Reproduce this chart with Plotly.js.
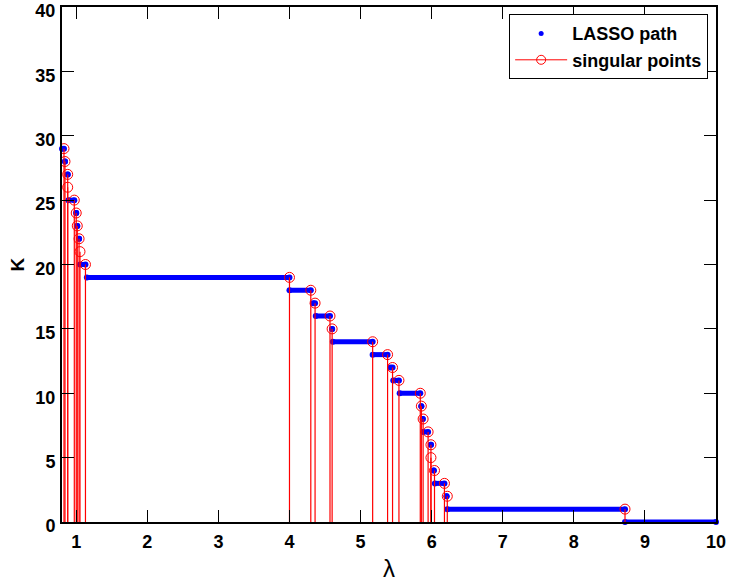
<!DOCTYPE html>
<html>
<head>
<meta charset="utf-8">
<script src="https://cdn.plot.ly/plotly-3.0.1.min.js"></script>
<style>html,body{margin:0;padding:0;background:#fff;}#chart{width:729px;height:587px;}</style>
</head>
<body>
<div id="chart"></div>
<script>
// Singular points (lambda, K)
const singularLambda = [0.828, 0.842, 0.88, 0.88, 0.973, 1.0, 1.015, 1.04, 1.053, 1.13,
  4.0, 4.30, 4.36, 4.57, 4.60, 5.17, 5.38, 5.45, 5.54, 5.84, 5.855, 5.88, 5.95, 5.99, 5.99,
  6.04, 6.18, 6.22, 8.72];
const singularK = [29, 28, 27, 26, 25, 24, 23, 22, 21, 20,
  19, 18, 17, 16, 15, 14, 13, 12, 11, 10, 9, 8, 7, 6, 5,
  4, 3, 2, 1];

// LASSO path segments (start lambda, end lambda, K)
const pathStart = [0.80, 0.842, 0.88, 0.89, 1.0, 1.015, 1.04, 1.055, 1.15, 4.0, 4.33, 4.37, 4.60, 4.61, 5.17, 5.42, 5.46, 5.55, 5.855, 5.875, 5.88, 5.99, 6.03, 6.045, 6.21, 6.22, 8.72];
const pathEnd   = [0.828, 0.842, 0.88, 0.973, 1.0, 1.015, 1.04, 1.13, 4.0, 4.30, 4.36, 4.57, 4.60, 5.17, 5.38, 5.45, 5.54, 5.84, 5.855, 5.875, 5.95, 5.99, 6.03, 6.18, 6.21, 8.72, 10.0];
const pathK     = [29, 28, 27, 25, 24, 23, 22, 20, 19, 18, 17, 16, 15, 14, 13, 12, 11, 10, 9, 8, 7, 6, 4, 3, 2, 1, 0];

const xTicks = [1, 2, 3, 4, 5, 6, 7, 8, 9, 10];
const yTicks = [0, 5, 10, 15, 20, 25, 30, 35, 40];

// build segment arrays
const px = [], py = [];
for (let i = 0; i < pathK.length; i++) {
  px.push(pathStart[i], pathEnd[i], null);
  py.push(pathK[i], pathK[i], null);
}
const sx = [], sy = [];
for (let i = 0; i < singularK.length; i++) {
  sx.push(singularLambda[i], singularLambda[i], null);
  sy.push(0, singularK[i], null);
}

const blue = '#0000ff', red = '#ff0000';
const traces = [
  {x: px, y: py, mode: 'lines+markers', line: {color: blue, width: 5}, marker: {color: blue, size: 6}, showlegend: false, cliponaxis: false},
  {x: sx, y: sy, mode: 'lines', line: {color: red, width: 1.2}, showlegend: false, hoverinfo: 'skip'},
  {x: singularLambda, y: singularK, mode: 'markers', marker: {symbol: 'circle-open', color: red, size: 10, line: {width: 1, color: red}}, showlegend: false},
  {x: [null], y: [null], mode: 'markers', marker: {color: blue, size: 5}, name: 'LASSO path'},
  {x: [null], y: [null], mode: 'lines+markers', line: {color: red, width: 1}, marker: {symbol: 'circle-open', color: red, size: 9, line: {width: 1, color: red}}, name: 'singular points'}
];

const fam = '"Liberation Sans", Arial, sans-serif';
const layout = {
  width: 729, height: 587,
  margin: {l: 62, r: 13, t: 7, b: 65},
  paper_bgcolor: '#fff', plot_bgcolor: '#fff',
  font: {family: fam, size: 18, color: '#000'},
  showlegend: true,
  legend: {x: 0.988, xanchor: 'right', y: 0.986, yanchor: 'top', bgcolor: '#fff', bordercolor: '#000', borderwidth: 1,
    itemwidth: 52, font: {family: fam, size: 18, color: '#000', weight: 'bold'}, tracegroupgap: 0},
  xaxis: {range: [0.8, 10], tickvals: xTicks, ticktext: xTicks.map(String), ticks: 'inside', ticklen: 12, tickwidth: 1, tickcolor: '#000',
    showline: true, linecolor: '#000', linewidth: 2, mirror: 'ticks', showgrid: false, zeroline: false,
    ticklabeloverflow: 'allow', ticklabelstandoff: 2,
    tickfont: {family: fam, size: 18, weight: 'bold', color: '#000'},
    title: {text: 'λ', font: {family: fam, size: 24, color: '#000'}, standoff: 10}},
  yaxis: {range: [0, 40], tickvals: yTicks, ticktext: yTicks.map(String), ticks: 'inside', ticklen: 12, tickwidth: 1, tickcolor: '#000',
    showline: true, linecolor: '#000', linewidth: 2, mirror: 'ticks', showgrid: false, zeroline: false,
    ticklabeloverflow: 'allow', ticklabelstandoff: 1, ticklabelshift: 4,
    tickfont: {family: fam, size: 18, weight: 'bold', color: '#000'},
    title: {text: 'K', font: {family: fam, size: 19, weight: 'bold', color: '#000'}, standoff: 6}}
};
Plotly.newPlot('chart', traces, layout, {displayModeBar: false, staticPlot: true});
</script>
</body>
</html>
